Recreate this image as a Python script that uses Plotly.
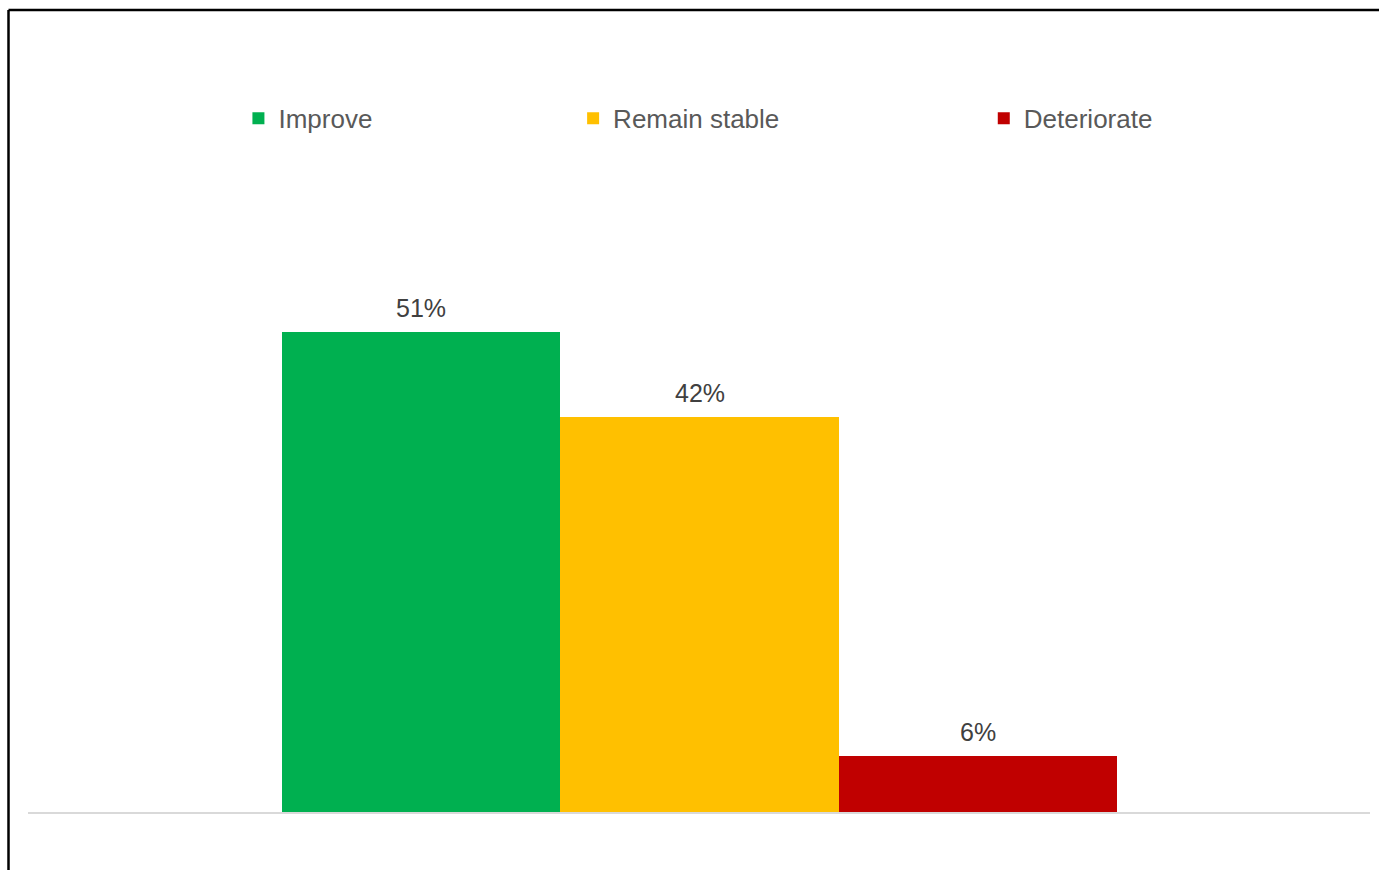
import plotly.graph_objects as go

# Survey outlook shares
categories = ["Improve", "Remain stable", "Deteriorate"]
values = [51, 42, 6]
colors = ["#00B050", "#FFC000", "#C00000"]
legend_ids = ["legend", "legend2", "legend3"]
legend_x = [0.1568, 0.4062, 0.7122]

W, H = 1379, 870
ML, MR, MT, MB = 28, 9, 10, 58
FONT = "Liberation Sans, Arial, sans-serif"

fig = go.Figure()
for i, (cat, val, col, lg) in enumerate(zip(categories, values, colors, legend_ids)):
    fig.add_trace(go.Bar(
        x=[i], y=[val], name=cat, width=1,
        marker=dict(color=col, line=dict(width=0)),
        legend=lg, hoverinfo="skip",
    ))
    fig.add_annotation(
        x=i, y=val, text=f"{val}%", showarrow=False,
        yanchor="bottom", yshift=8,
        font=dict(size=25, color="#404040", family=FONT),
    )

legend_style = dict(
    orientation="h", yanchor="middle", y=0.865, xanchor="left",
    font=dict(size=26, color="#595959", family=FONT),
    bgcolor="rgba(0,0,0,0)", itemclick=False, itemdoubleclick=False,
)
layout_legends = {lg: dict(legend_style, x=lx) for lg, lx in zip(legend_ids, legend_x)}

fig.update_layout(
    width=W, height=H,
    margin=dict(l=ML, r=MR, t=MT, b=MB, pad=0),
    paper_bgcolor="white", plot_bgcolor="white",
    barmode="overlay", bargap=0,
    showlegend=True,
    xaxis=dict(range=[-1.4126, 3.409], showticklabels=False, showgrid=False,
               zeroline=False, showline=True, linecolor="#D9D9D9", linewidth=2,
               ticks="", fixedrange=True),
    yaxis=dict(range=[0, 85.2], visible=False, fixedrange=True),
    **layout_legends,
)

# Frame edges on the left and top of the page
x_left = (8.5 - ML) / (W - ML - MR)
fig.add_shape(type="line", xref="paper", yref="paper",
              x0=x_left, x1=x_left, y0=1.0, y1=-0.1,
              line=dict(color="#000000", width=2.5))
fig.add_shape(type="line", xref="paper", yref="paper",
              x0=x_left, x1=1.02, y0=1.0, y1=1.0,
              line=dict(color="#000000", width=2.5))

fig.write_html("out.html", config={"displayModeBar": False})
